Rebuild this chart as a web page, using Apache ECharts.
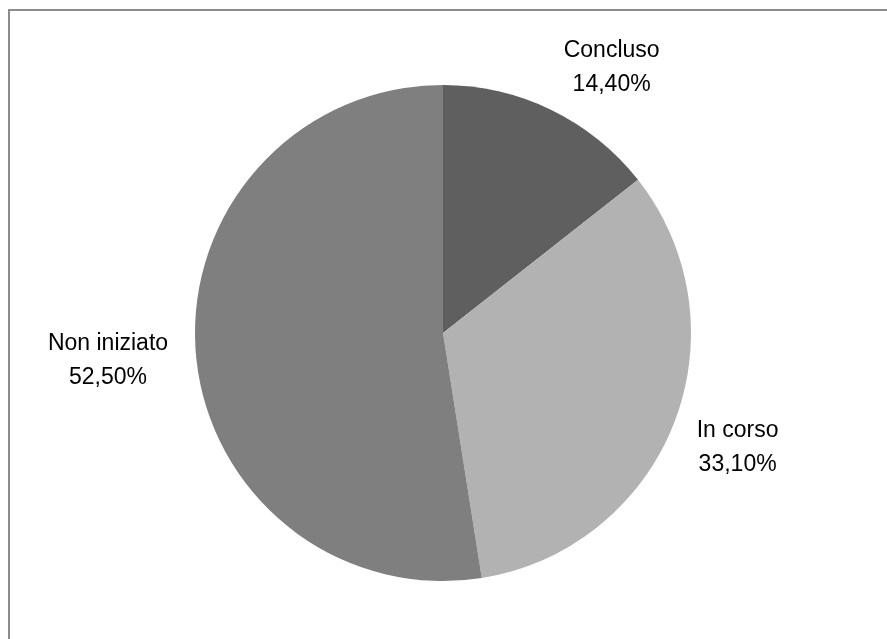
<!DOCTYPE html>
<html>
<head>
<meta charset="utf-8">
<script src="https://cdn.jsdelivr.net/npm/echarts@6/dist/echarts.min.js"></script>
<style>html,body{margin:0;padding:0;background:#fff}#c{width:887px;height:639px}</style>
</head>
<body>
<div id="c"></div>
<script>
const categories = ['Concluso', 'In corso', 'Non iniziato'];
const values = [14.4, 33.1, 52.5];
const colors = ['#5f5f5f', '#b2b2b2', '#7f7f7f'];

const labelNudge = [[27, 26], [-7, -4], [-12, 2]];
const fmt = p => p.name + '\n' + p.value.toFixed(2).replace('.', ',') + '%';

const chart = echarts.init(document.getElementById('c'), null, { renderer: 'canvas' });
chart.setOption({
  backgroundColor: '#fff',
  animation: false,
  graphic: [{
    type: 'rect', shape: { x: 9, y: 10, width: 900, height: 700 },
    style: { fill: 'none', stroke: '#8c8c8c', lineWidth: 2 }, silent: true
  }],
  series: [{
    type: 'pie',
    center: [443, 333],
    radius: [0, 248],
    startAngle: 90,
    clockwise: true,
    label: { show: false },
    labelLine: { show: false },
    silent: true,
    data: categories.map((n, i) => ({ name: n, value: values[i], itemStyle: { color: colors[i] } }))
  }, {
    type: 'pie',
    center: [443, 333],
    radius: [292, 350],
    startAngle: 90,
    clockwise: true,
    silent: true,
    itemStyle: { color: 'rgba(0,0,0,0)' },
    label: {
      show: true, position: 'inside', formatter: fmt,
      fontFamily: 'Liberation Sans', fontSize: 23, lineHeight: 34, color: '#000'
    },
    labelLine: { show: false },
    data: categories.map((n, i) => ({
      name: n, value: values[i],
      itemStyle: { color: 'rgba(0,0,0,0)' },
      label: { offset: labelNudge[i] }
    }))
  }]
});
</script>
</body>
</html>
